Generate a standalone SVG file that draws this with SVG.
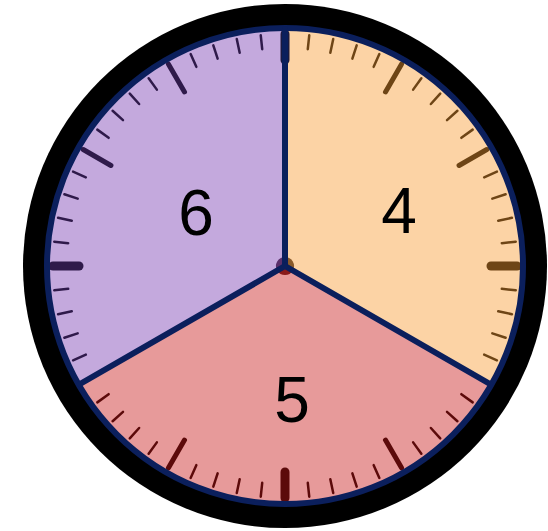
<svg xmlns="http://www.w3.org/2000/svg" xmlns:xlink="http://www.w3.org/1999/xlink" width="548" height="531" viewBox="0 0 548 531">
  <style>
    .num { font-family: "Liberation Sans", Arial, sans-serif; font-size: 64px; fill: #000; text-anchor: middle; }
    .divider { stroke: #0b1f5c; stroke-width: 6; stroke-linecap: round; fill: none; }
    .tk-o { stroke: #6e4516; }
    .tk-r { stroke: #5c0a0a; }
    .tk-p { stroke: #2f1a4a; }
  </style>
  <defs>
    <line id="minor" x1="0" y1="-232" x2="0" y2="-218" stroke-width="2.5" stroke-linecap="round"/>
    <line id="hour" x1="0" y1="-233" x2="0" y2="-201" stroke-width="5" stroke-linecap="round"/>
    <line id="quarter" x1="0" y1="-232" x2="0" y2="-206" stroke-width="9" stroke-linecap="round"/>
  </defs>

  <!-- bezel -->
  <circle cx="285" cy="266" r="262" fill="#000"/>

  <!-- sectors -->
  <g id="sector-4">
    <path d="M285,266 L285,28 A238,238 0 0 1 491.1,385 Z" fill="#fcd3a5"/>
  </g>
  <g id="sector-5">
    <path d="M285,266 L491.1,385 A238,238 0 0 1 78.9,385 Z" fill="#e79a9a"/>
  </g>
  <g id="sector-6">
    <path d="M285,266 L78.9,385 A238,238 0 0 1 285,28 Z" fill="#c4a9dd"/>
  </g>

  <!-- ticks -->
  <g id="ticks" transform="translate(285 266)">
    <g class="tk-o">
      <use href="#quarter" transform="rotate(0)" style="stroke:#1a1a40"/>
      <use href="#minor" transform="rotate(6)"/>
      <use href="#minor" transform="rotate(12)"/>
      <use href="#minor" transform="rotate(18)"/>
      <use href="#minor" transform="rotate(24)"/>
      <use href="#hour" transform="rotate(30)"/>
      <use href="#minor" transform="rotate(36)"/>
      <use href="#minor" transform="rotate(42)"/>
      <use href="#minor" transform="rotate(48)"/>
      <use href="#minor" transform="rotate(54)"/>
      <use href="#hour" transform="rotate(60)"/>
      <use href="#minor" transform="rotate(66)"/>
      <use href="#minor" transform="rotate(72)"/>
      <use href="#minor" transform="rotate(78)"/>
      <use href="#minor" transform="rotate(84)"/>
      <use href="#quarter" transform="rotate(90)"/>
      <use href="#minor" transform="rotate(96)"/>
      <use href="#minor" transform="rotate(102)"/>
      <use href="#minor" transform="rotate(108)"/>
      <use href="#minor" transform="rotate(114)"/>
    </g>
    <g class="tk-r">
      <use href="#minor" transform="rotate(126)"/>
      <use href="#minor" transform="rotate(132)"/>
      <use href="#minor" transform="rotate(138)"/>
      <use href="#minor" transform="rotate(144)"/>
      <use href="#hour" transform="rotate(150)"/>
      <use href="#minor" transform="rotate(156)"/>
      <use href="#minor" transform="rotate(162)"/>
      <use href="#minor" transform="rotate(168)"/>
      <use href="#minor" transform="rotate(174)"/>
      <use href="#quarter" transform="rotate(180)"/>
      <use href="#minor" transform="rotate(186)"/>
      <use href="#minor" transform="rotate(192)"/>
      <use href="#minor" transform="rotate(198)"/>
      <use href="#minor" transform="rotate(204)"/>
      <use href="#hour" transform="rotate(210)"/>
      <use href="#minor" transform="rotate(216)"/>
      <use href="#minor" transform="rotate(222)"/>
      <use href="#minor" transform="rotate(228)"/>
      <use href="#minor" transform="rotate(234)"/>
    </g>
    <g class="tk-p">
      <use href="#minor" transform="rotate(246)"/>
      <use href="#minor" transform="rotate(252)"/>
      <use href="#minor" transform="rotate(258)"/>
      <use href="#minor" transform="rotate(264)"/>
      <use href="#quarter" transform="rotate(270)"/>
      <use href="#minor" transform="rotate(276)"/>
      <use href="#minor" transform="rotate(282)"/>
      <use href="#minor" transform="rotate(288)"/>
      <use href="#minor" transform="rotate(294)"/>
      <use href="#hour" transform="rotate(300)"/>
      <use href="#minor" transform="rotate(306)"/>
      <use href="#minor" transform="rotate(312)"/>
      <use href="#minor" transform="rotate(318)"/>
      <use href="#minor" transform="rotate(324)"/>
      <use href="#hour" transform="rotate(330)"/>
      <use href="#minor" transform="rotate(336)"/>
      <use href="#minor" transform="rotate(342)"/>
      <use href="#minor" transform="rotate(348)"/>
      <use href="#minor" transform="rotate(354)"/>
    </g>
    <!-- center hub -->
    <path d="M0,0 L0,-9 A9,9 0 0 1 7.8,4.5 Z" fill="#8a5a2a"/>
    <path d="M0,0 L7.8,4.5 A9,9 0 0 1 -7.8,4.5 Z" fill="#8a1a1a"/>
    <path d="M0,0 L-7.8,4.5 A9,9 0 0 1 0,-9 Z" fill="#5a2f6a"/>
  </g>

  <!-- rim -->
  <circle cx="285" cy="266" r="238" fill="none" stroke="#0b1f5c" stroke-width="6"/>

  <!-- dividers -->
  <g id="connectors">
    <line class="divider" x1="285" y1="266" x2="285" y2="29"/>
    <line class="divider" x1="285" y1="266" x2="490" y2="384"/>
    <line class="divider" x1="285" y1="266" x2="80" y2="384"/>
  </g>

  <!-- labels -->
  <g id="labels">
    <text class="num" x="196" y="235">6</text>
    <text class="num" x="399" y="233">4</text>
    <text class="num" x="292" y="422">5</text>
  </g>
</svg>
